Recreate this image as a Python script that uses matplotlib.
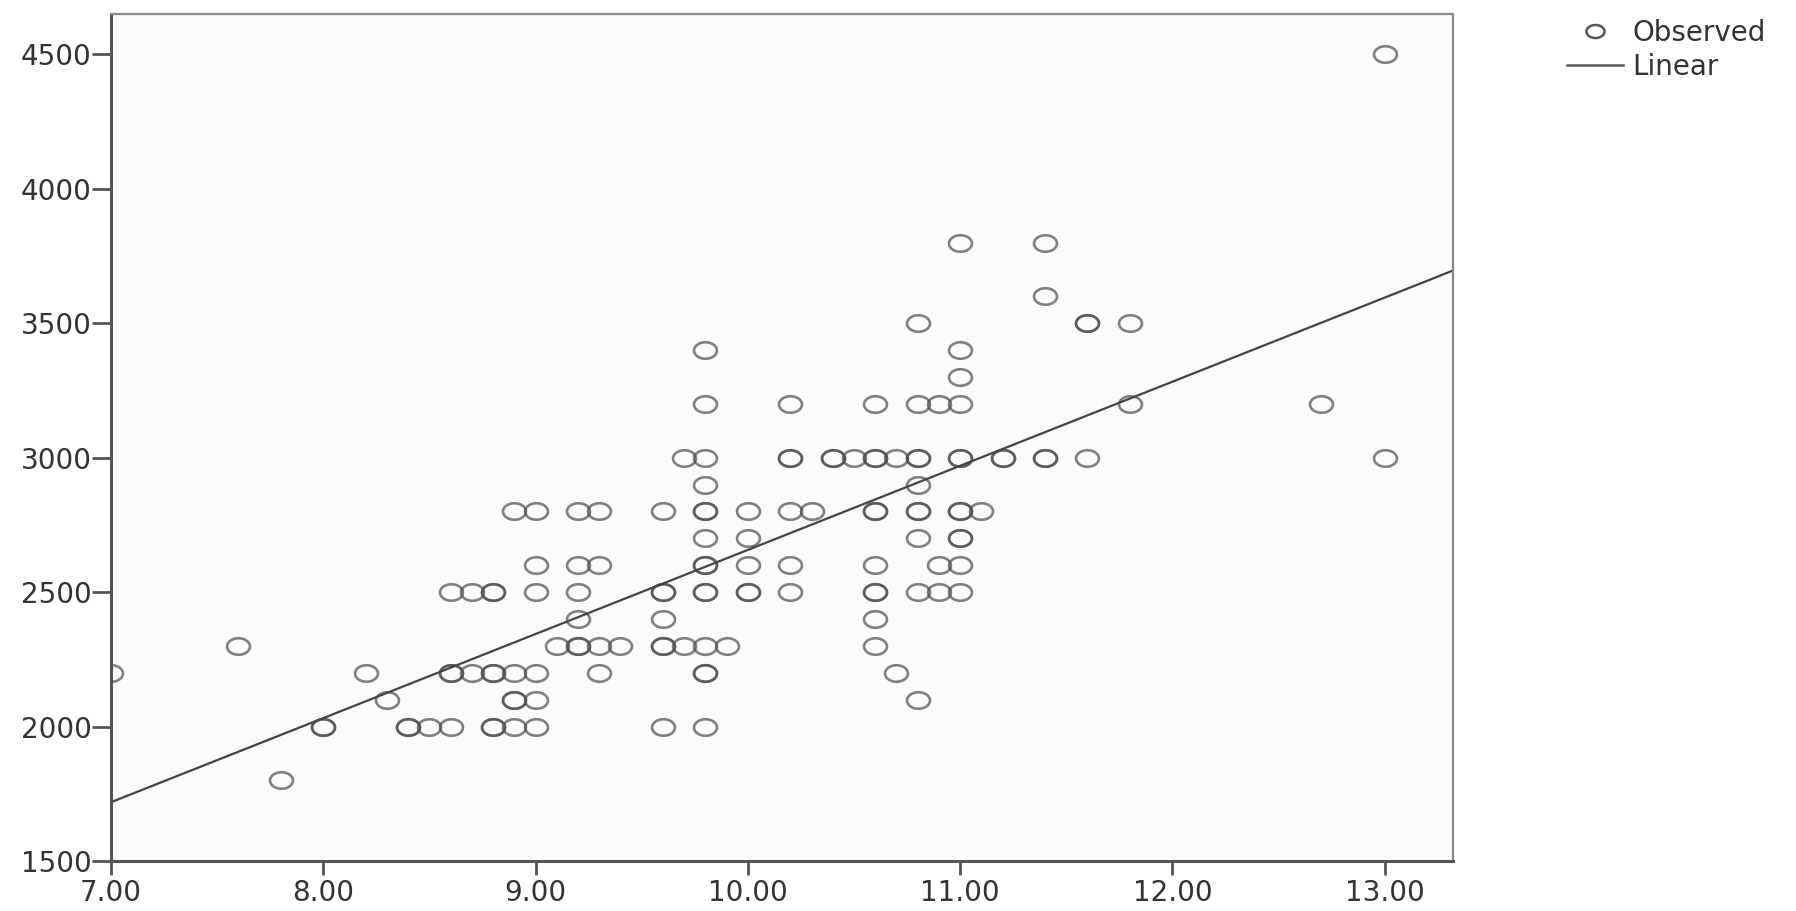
import numpy as np
import matplotlib
matplotlib.use("Agg")
import matplotlib.pyplot as plt
from matplotlib.path import Path
from matplotlib.lines import Line2D


# observed points (repeated entries are the darker, overlapping circles)
x_obs = [7.0, 7.6, 7.8, 8.0, 8.0, 8.2, 8.3, 8.4, 8.4, 8.5,
         8.6, 8.6, 8.6, 8.6, 8.7, 8.7,
         8.8, 8.8, 8.8, 8.8, 8.8, 8.8,
         8.9, 8.9, 8.9, 8.9, 8.9,
         9.0, 9.0, 9.0, 9.0, 9.0, 9.0,
         9.1,
         9.2, 9.2, 9.2, 9.2, 9.2, 9.2,
         9.3, 9.3, 9.3, 9.3, 9.4,
         9.6, 9.6, 9.6, 9.6, 9.6, 9.6, 9.6,
         9.7, 9.7,
         9.8, 9.8, 9.8, 9.8, 9.8, 9.8, 9.8, 9.8, 9.8, 9.8, 9.8, 9.8, 9.8, 9.8, 9.8,
         9.9,
         10.0, 10.0, 10.0, 10.0, 10.0,
         10.2, 10.2, 10.2, 10.2, 10.2, 10.2,
         10.3, 10.4, 10.4, 10.5,
         10.6, 10.6, 10.6, 10.6, 10.6, 10.6, 10.6, 10.6, 10.6, 10.6,
         10.7, 10.7,
         10.8, 10.8, 10.8, 10.8, 10.8, 10.8, 10.8, 10.8, 10.8, 10.8,
         10.9, 10.9, 10.9,
         11.0, 11.0, 11.0, 11.0, 11.0, 11.0, 11.0, 11.0, 11.0, 11.0, 11.0, 11.0,
         11.1, 11.2, 11.2,
         11.4, 11.4, 11.4, 11.4,
         11.6, 11.6, 11.6, 11.8, 11.8,
         12.7, 13.0, 13.0]
y_obs = [2200, 2300, 1800, 2000, 2000, 2200, 2100, 2000, 2000, 2000,
         2000, 2200, 2200, 2500, 2200, 2500,
         2000, 2000, 2200, 2200, 2500, 2500,
         2000, 2100, 2100, 2200, 2800,
         2000, 2100, 2200, 2500, 2600, 2800,
         2300,
         2300, 2300, 2400, 2500, 2600, 2800,
         2200, 2300, 2600, 2800, 2300,
         2000, 2300, 2300, 2400, 2500, 2500, 2800,
         2300, 3000,
         2000, 2200, 2200, 2300, 2500, 2500, 2600, 2600, 2700, 2800, 2800, 2900, 3000, 3200, 3400,
         2300,
         2500, 2500, 2600, 2700, 2800,
         2500, 2600, 2800, 3000, 3000, 3200,
         2800, 3000, 3000, 3000,
         2300, 2400, 2500, 2500, 2600, 2800, 2800, 3000, 3000, 3200,
         2200, 3000,
         2100, 2500, 2700, 2800, 2800, 2900, 3000, 3000, 3200, 3500,
         2500, 2600, 3200,
         2500, 2600, 2700, 2700, 2800, 2800, 3000, 3000, 3200, 3300, 3400, 3800,
         2800, 3000, 3000,
         3000, 3000, 3600, 3800,
         3000, 3500, 3500, 3200, 3500,
         3200, 3000, 4500]

x_ticks = [7, 8, 9, 10, 11, 12, 13]
y_ticks = [1500, 2000, 2500, 3000, 3500, 4000, 4500]
legend_labels = ["Observed", "Linear"]

# DejaVu is wide enough to mimic the horizontally stretched text of the source
plt.rcParams["font.family"] = ["DejaVu Sans"]

x = np.array(x_obs)
y = np.array(y_obs)
slope, intercept = np.polyfit(x, y, 1)

# the source image is stretched sideways, so the circles are ellipses
t = np.linspace(0, 2 * np.pi, 60)
ellipse = Path(np.column_stack([np.cos(t), 0.72 * np.sin(t)]), closed=True)

fig = plt.figure(figsize=(17.96, 9.11), dpi=100)
ax = fig.add_axes([0.0618, 0.0549, 0.747, 0.9297])
ax.set_facecolor("#fdfafd")

ax.plot(x, y, linestyle="none", marker=ellipse, markersize=16.5,
        markerfacecolor="none", markeredgecolor=(0.3, 0.3, 0.3, 0.7),
        markeredgewidth=1.9)

x_line = np.array([7.0, 13.32])
ax.plot(x_line, intercept + slope * x_line, color="#444444", linewidth=1.6)

ax.set_xlim(7.0, 13.32)
ax.set_ylim(1500, 4650)
ax.set_xticks(x_ticks)
ax.set_xticklabels([f"{v:.2f}" for v in x_ticks])
ax.set_yticks(y_ticks)
ax.tick_params(axis="both", direction="out", width=2,
               color="#555555", labelsize=20, labelcolor="#333333")
ax.tick_params(axis="x", length=10, pad=3)
ax.tick_params(axis="y", length=14, pad=0)

for side in ["left", "bottom"]:
    ax.spines[side].set_color("#555555")
    ax.spines[side].set_linewidth(2.2)
for side in ["top", "right"]:
    ax.spines[side].set_color("#888888")
    ax.spines[side].set_linewidth(1.6)

handles = [
    Line2D([], [], linestyle="none", marker=ellipse, markersize=13,
           markerfacecolor="none", markeredgecolor="#555555", markeredgewidth=1.8),
    Line2D([], [], color="#555555", linewidth=1.8),
]
fig.legend(handles, legend_labels, loc="upper left", bbox_to_anchor=(0.8725, 0.979),
           frameon=False, fontsize=20, handlelength=2.0, handletextpad=0.35,
           labelspacing=0.2, borderpad=0, borderaxespad=0, labelcolor="#333333")

fig.savefig("out.png", dpi=100, facecolor="white")
